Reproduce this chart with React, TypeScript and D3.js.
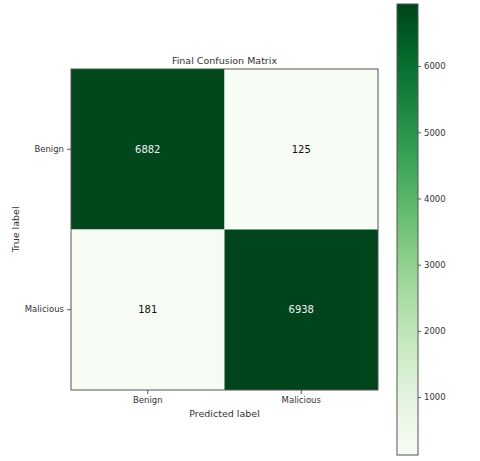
import { useRef, useEffect } from "react";
import * as d3 from "d3";

const classes = ["Benign", "Malicious"];
const matrix = [
  [6882, 125],
  [181, 6938],
];
const colorbarTicks = [1000, 2000, 3000, 4000, 5000, 6000];

export default function App() {
  const svgRef = useRef<SVGSVGElement>(null);

  useEffect(() => {
    const svg = d3.select(svgRef.current);
    svg.selectAll("*").remove();

    const width = 480;
    const height = 461;
    const plot = { left: 71, top: 69, right: 378, bottom: 390 };
    const cbar = { left: 397, right: 418, top: 4, bottom: 455 };
    const font = "DejaVu Sans, sans-serif";
    const ink = "#333";

    svg.attr("width", width).attr("height", height).attr("viewBox", `0 0 ${width} ${height}`);

    const cells = matrix.flatMap((row, i) => row.map((v, j) => ({ i, j, v })));
    const vmin = d3.min(cells, d => d.v)!;
    const vmax = d3.max(cells, d => d.v)!;
    const color = d3.scaleSequential(d3.interpolateGreens).domain([vmin, vmax]);

    const x = d3.scaleBand<string>().domain(classes).range([plot.left, plot.right]);
    const y = d3.scaleBand<string>().domain(classes).range([plot.top, plot.bottom]);

    // cells
    svg.append("g")
      .selectAll("rect")
      .data(cells)
      .join("rect")
      .attr("x", d => x(classes[d.j])!)
      .attr("y", d => y(classes[d.i])!)
      .attr("width", x.bandwidth())
      .attr("height", y.bandwidth())
      .attr("fill", d => color(d.v));

    // cell values, light text on dark cells
    const thresh = (vmax + vmin) / 2;
    svg.append("g")
      .selectAll("text")
      .data(cells)
      .join("text")
      .attr("x", d => x(classes[d.j])! + x.bandwidth() / 2)
      .attr("y", d => y(classes[d.i])! + y.bandwidth() / 2)
      .attr("text-anchor", "middle")
      .attr("dominant-baseline", "central")
      .style("font-family", font)
      .style("font-size", "10px")
      .attr("fill", d => (d.v > thresh ? "#f0f0f0" : "#111"))
      .text(d => d.v);

    // frame
    svg.append("rect")
      .attr("x", plot.left)
      .attr("y", plot.top)
      .attr("width", plot.right - plot.left)
      .attr("height", plot.bottom - plot.top)
      .attr("fill", "none")
      .attr("stroke", "#555")
      .attr("stroke-width", 1);

    // x axis
    const xAxis = svg.append("g")
      .attr("transform", `translate(0,${plot.bottom})`)
      .call(d3.axisBottom(x).tickSize(4).tickPadding(3));
    xAxis.select(".domain").remove();
    xAxis.selectAll("line").attr("stroke", "#555");
    xAxis.selectAll("text").attr("fill", ink).style("font-family", font).style("font-size", "8.5px");

    // y axis
    const yAxis = svg.append("g")
      .attr("transform", `translate(${plot.left},0)`)
      .call(d3.axisLeft(y).tickSize(4).tickPadding(3));
    yAxis.select(".domain").remove();
    yAxis.selectAll("line").attr("stroke", "#555");
    yAxis.selectAll("text").attr("fill", ink).style("font-family", font).style("font-size", "8.5px");

    // title and labels
    svg.append("text")
      .attr("x", (plot.left + plot.right) / 2)
      .attr("y", plot.top - 5)
      .attr("text-anchor", "middle")
      .style("font-family", font)
      .style("font-size", "9.5px")
      .attr("fill", ink)
      .text("Final Confusion Matrix");

    svg.append("text")
      .attr("x", (plot.left + plot.right) / 2)
      .attr("y", 417)
      .attr("text-anchor", "middle")
      .style("font-family", font)
      .style("font-size", "9.5px")
      .attr("fill", ink)
      .text("Predicted label");

    svg.append("text")
      .attr("transform", `translate(19,${(plot.top + plot.bottom) / 2}) rotate(-90)`)
      .attr("text-anchor", "middle")
      .style("font-family", font)
      .style("font-size", "9.5px")
      .attr("fill", ink)
      .text("True label");

    // colorbar
    const defs = svg.append("defs");
    const grad = defs.append("linearGradient")
      .attr("id", "cbar-grad")
      .attr("x1", 0).attr("y1", 1).attr("x2", 0).attr("y2", 0);
    d3.range(0, 1.0001, 0.05).forEach(t => {
      grad.append("stop")
        .attr("offset", t)
        .attr("stop-color", d3.interpolateGreens(t));
    });

    svg.append("rect")
      .attr("x", cbar.left)
      .attr("y", cbar.top)
      .attr("width", cbar.right - cbar.left)
      .attr("height", cbar.bottom - cbar.top)
      .attr("fill", "url(#cbar-grad)")
      .attr("stroke", "#555")
      .attr("stroke-width", 1);

    const cy = d3.scaleLinear().domain([vmin, vmax]).range([cbar.bottom, cbar.top]);
    const cAxis = svg.append("g")
      .attr("transform", `translate(${cbar.right},0)`)
      .call(d3.axisRight(cy).tickValues(colorbarTicks).tickFormat(d3.format("d")).tickSize(3).tickPadding(3));
    cAxis.select(".domain").remove();
    cAxis.selectAll("line").attr("stroke", "#555");
    cAxis.selectAll("text").attr("fill", ink).style("font-family", font).style("font-size", "8.5px");
  }, []);

  return <svg ref={svgRef} style={{ display: "block", position: "absolute", left: 0, top: 0 }} />;
}
